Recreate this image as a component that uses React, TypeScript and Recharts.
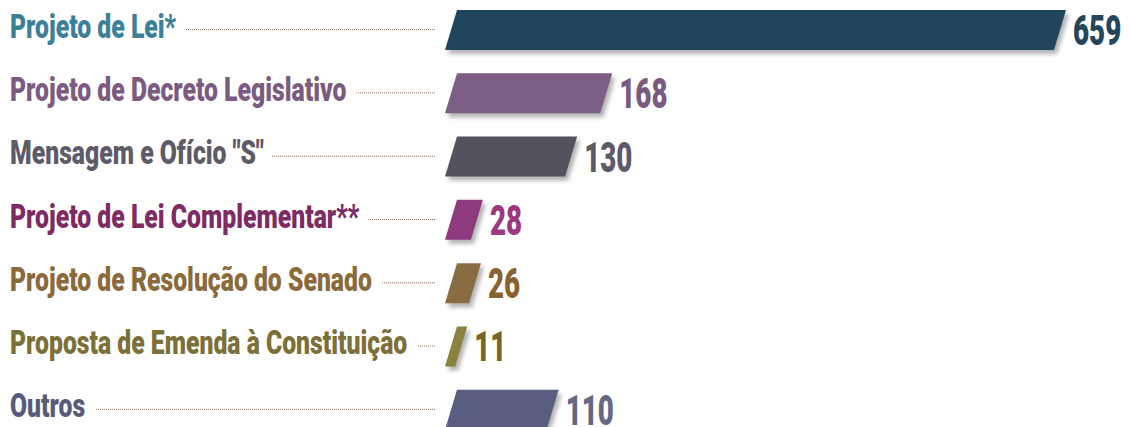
import { BarChart, Bar, XAxis, YAxis, Cell, LabelList } from "recharts";

const CATEGORIES = [
  "Projeto de Lei*",
  "Projeto de Decreto Legislativo",
  'Mensagem e Ofício "S"',
  "Projeto de Lei Complementar**",
  "Projeto de Resolução do Senado",
  "Proposta de Emenda à Constituição",
  "Outros",
];

const COUNTS = [659, 168, 130, 28, 26, 11, 110];

// text colour of the category names
const LABEL_COLORS = ["#3b7f99", "#7b5b80", "#5e5a68", "#7e2a63", "#8a6a3a", "#7c7038", "#585a7c"];
// bar fills
const BAR_COLORS = ["#1f465c", "#7d5e85", "#55525e", "#8e3a7e", "#8a6c42", "#8a8240", "#595d80"];
// colour of the numbers at the bar ends
const VALUE_COLORS = ["#23465c", "#7b5a80", "#5d5a68", "#9c3781", "#8a6130", "#766529", "#666886"];

const data = CATEGORIES.map((name, i) => ({ name, count: COUNTS[i] }));

const SKEW = 12;

const SlantedBar = (props: any) => {
  const { x, y, width, height, fill } = props;
  if (width == null || width <= 0) return null;
  const h = SKEW / 2;
  const pts = [
    [x - h, y + height],
    [x + h, y],
    [x + width + h, y],
    [x + width - h, y + height],
  ]
    .map((p) => p.join(","))
    .join(" ");
  return (
    <polygon
      points={pts}
      fill={fill}
      style={{ filter: "drop-shadow(3px 4px 2px rgba(0,0,0,0.3))" }}
    />
  );
};

const CategoryTick = (props: any) => {
  const { y, payload } = props;
  const i = CATEGORIES.indexOf(payload.value);
  return (
    <g>
      <line x1={12} x2={435} y1={y} y2={y} stroke="#8a6a5c" strokeWidth={1} strokeDasharray="1 1" />
      <text
        transform={`translate(10, ${y + 8}) scale(0.75, 1)`}
        fontFamily="Roboto, 'Liberation Sans', sans-serif"
        fontWeight={900}
        fontSize={33}
        fill={LABEL_COLORS[i]}
        stroke="#fff"
        strokeWidth={28}
        strokeLinejoin="round"
        paintOrder="stroke"
      >
        {payload.value}
      </text>
    </g>
  );
};

const ValueLabel = (props: any) => {
  const { x, y, width, height, value, index } = props;
  return (
    <text
      transform={`translate(${x + width + SKEW / 2 + 7}, ${y + height / 2 + 15}) scale(0.66, 1)`}
      fontFamily="Roboto, 'Liberation Sans', sans-serif"
      fontWeight={900}
      fontSize={42}
      fill={VALUE_COLORS[index]}
    >
      {value}
    </text>
  );
};

export default function App() {
  return (
    <div style={{ position: "absolute", left: 0, top: 0, width: 1130, height: 427, overflow: "hidden", background: "#fff" }}>
      <BarChart
        width={1130}
        height={443}
        data={data}
        layout="vertical"
        margin={{ top: 0, right: 70, bottom: 0, left: 0 }}
        style={{ marginTop: -2 }}
        barSize={40}
      >
        <XAxis type="number" hide domain={[0, 659]} />
        <YAxis
          type="category"
          dataKey="name"
          width={451}
          axisLine={false}
          tickLine={false}
          interval={0}
          tick={<CategoryTick />}
        />
        <Bar dataKey="count" shape={<SlantedBar />} isAnimationActive={false}>
          {data.map((d, i) => (
            <Cell key={d.name} fill={BAR_COLORS[i]} />
          ))}
          <LabelList dataKey="count" content={<ValueLabel />} />
        </Bar>
      </BarChart>
    </div>
  );
}
